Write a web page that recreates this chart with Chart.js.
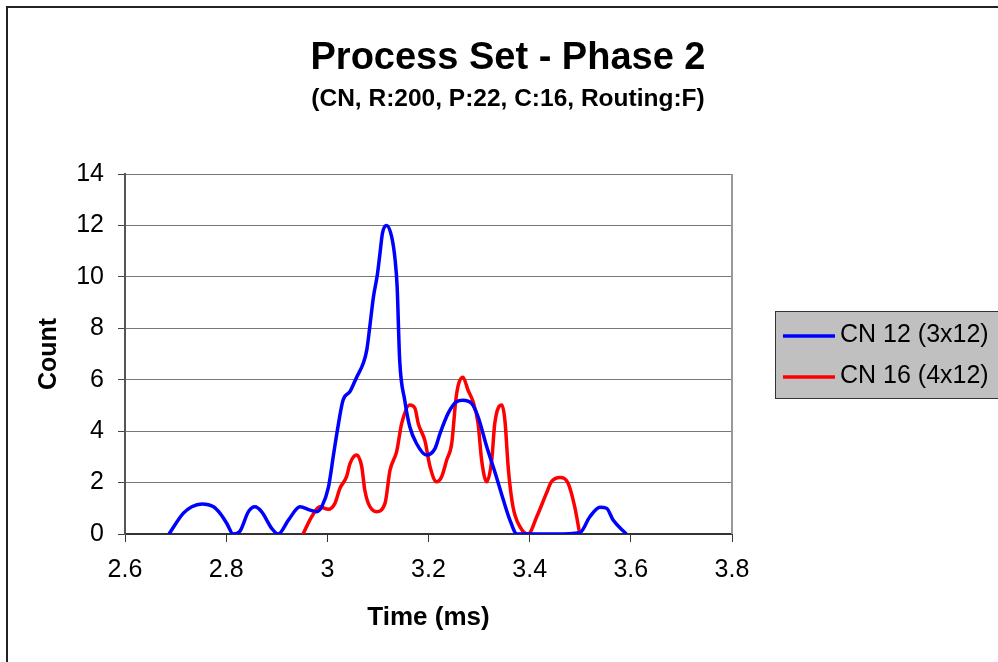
<!DOCTYPE html>
<html>
<head>
<meta charset="utf-8">
<title>Process Set - Phase 2</title>
<script src="https://cdn.jsdelivr.net/npm/chart.js@4.4.1/dist/chart.umd.min.js"></script>
<style>
    html, body { margin: 0; padding: 0; background: #fff; }
    canvas { display: block; }
</style>
</head>
<body>
<canvas id="chart_phase" width="998" height="662"></canvas>
<script>
// CN 12 (3x12)
var cn12Time = [2.687, 2.715, 2.732, 2.752, 2.775, 2.788, 2.801, 2.814, 2.827, 2.844, 2.857, 2.870, 2.890, 2.903,
    2.923, 2.946, 2.966, 2.979, 2.989, 3.002, 3.012, 3.020, 3.031, 3.045, 3.058, 3.071, 3.078, 3.084, 3.091, 3.099,
    3.104, 3.109, 3.117, 3.127, 3.134, 3.138, 3.143, 3.153, 3.163, 3.176, 3.196, 3.213, 3.223, 3.239, 3.256, 3.268,
    3.285, 3.298, 3.315, 3.332, 3.348, 3.361, 3.375, 3.400, 3.450, 3.499, 3.519, 3.539, 3.552, 3.565, 3.591];
var cn12Count = [0, 0.8, 1.06, 1.17, 1.06, 0.8, 0.42, 0, 0.1, 0.87, 1.06, 0.87, 0.22, 0,
    0.54, 1.06, 0.93, 0.87, 1.06, 1.8, 3.05, 4.05, 5.2, 5.55, 6.1, 6.64, 7.16, 8.07, 9.2, 10.1,
    10.9, 11.7, 12.0, 11.57, 10.66, 9.62, 6.77, 5.2, 4.17, 3.53, 3.07, 3.33, 3.92, 4.7, 5.15, 5.2,
    5.08, 4.56, 3.4, 2.36, 1.32, 0.54, 0, 0, 0, 0.05, 0.67, 1.04, 1.0, 0.54, 0];

// CN 16 (4x12)
var cn16Time = [2.952, 2.969, 2.985, 3.002, 3.015, 3.025, 3.038, 3.045, 3.058, 3.068, 3.074, 3.081, 3.097, 3.114,
    3.124, 3.137, 3.147, 3.163, 3.173, 3.180, 3.193, 3.203, 3.216, 3.226, 3.236, 3.246, 3.254, 3.259, 3.268, 3.278,
    3.288, 3.298, 3.305, 3.315, 3.325, 3.331, 3.345, 3.351, 3.358, 3.367, 3.381, 3.397, 3.414, 3.433, 3.443, 3.460,
    3.476, 3.489, 3.499];
var cn16Count = [0, 0.67, 1.06, 0.96, 1.19, 1.78, 2.23, 2.75, 3.07, 2.62, 1.71, 1.19, 0.87, 1.19,
    2.49, 3.2, 4.3, 5.02, 4.9, 4.28, 3.62, 2.62, 2.03, 2.23, 2.88, 3.53, 5.21, 5.8, 6.1, 5.6,
    5.15, 4.3, 2.88, 2.03, 2.88, 4.3, 5.02, 4.43, 2.49, 1.06, 0.28, 0, 0.67, 1.58, 2.03, 2.2,
    1.97, 1.06, 0];

var seriesLabels = ['CN 12 (3x12)', 'CN 16 (4x12)'];
var seriesColors = ['#0000ff', '#ff0000'];

var xTicks = [2.6, 2.8, 3, 3.2, 3.4, 3.6, 3.8];
var xTickLabels = ['2.6', '2.8', '3', '3.2', '3.4', '3.6', '3.8'];
var yTicks = [0, 2, 4, 6, 8, 10, 12, 14];
var yTickLabels = ['0', '2', '4', '6', '8', '10', '12', '14'];

var FONT = "'Liberation Sans', Arial, sans-serif";

function toPoints(xs, ys) {
    return xs.map(function (x, i) { return {x: x, y: ys[i]}; });
}

// titles, legend box and frame are painted around the plot area
var decorPlugin = {
    id: 'decor',
    beforeDraw: function (chart) {
        var ctx = chart.ctx;
        ctx.save();
        ctx.fillStyle = '#fff';
        ctx.fillRect(0, 0, chart.width, chart.height);
        ctx.restore();
    },
    afterDraw: function (chart) {
        var ctx = chart.ctx;
        var area = chart.chartArea;
        ctx.save();

        // outer frame
        ctx.strokeStyle = '#222';
        ctx.lineWidth = 2;
        ctx.beginPath();
        ctx.moveTo(7, chart.height);
        ctx.lineTo(7, 7);
        ctx.lineTo(chart.width, 7);
        ctx.stroke();

        // right edge of plot
        ctx.strokeStyle = '#999';
        ctx.lineWidth = 2;
        ctx.beginPath();
        ctx.moveTo(area.right, area.top);
        ctx.lineTo(area.right, area.bottom);
        ctx.stroke();

        // title
        ctx.fillStyle = '#000';
        ctx.textAlign = 'center';
        ctx.textBaseline = 'alphabetic';
        ctx.font = 'bold 38px ' + FONT;
        ctx.fillText('Process Set - Phase 2', 508, 69);
        ctx.font = 'bold 24.5px ' + FONT;
        ctx.fillText('(CN, R:200, P:22, C:16, Routing:F)', 508, 106);

        // legend
        ctx.fillStyle = '#c0c0c0';
        ctx.fillRect(775, 311, 240, 87);
        ctx.strokeStyle = '#333';
        ctx.lineWidth = 1;
        ctx.strokeRect(775.5, 311.5, 240, 87);
        ctx.font = '25px ' + FONT;
        ctx.textAlign = 'left';
        chart.data.datasets.forEach(function (ds, i) {
            var y = 336 + i * 41;
            ctx.strokeStyle = ds.borderColor;
            ctx.lineWidth = 3.5;
            ctx.beginPath();
            ctx.moveTo(783, y);
            ctx.lineTo(835, y);
            ctx.stroke();
            ctx.fillStyle = '#000';
            ctx.fillText(ds.label, 840, y + 6);
        });
        ctx.restore();
    }
};

var ctx = document.getElementById('chart_phase');
var phaseChart = new Chart(ctx, {
    type: 'line',
    data: {
        datasets: [{
            label: seriesLabels[0],
            data: toPoints(cn12Time, cn12Count),
            borderColor: seriesColors[0],
            backgroundColor: seriesColors[0],
            borderWidth: 3.5,
            pointRadius: 0,
            cubicInterpolationMode: 'monotone',
            fill: false
        }, {
            label: seriesLabels[1],
            data: toPoints(cn16Time, cn16Count),
            borderColor: seriesColors[1],
            backgroundColor: seriesColors[1],
            borderWidth: 3.5,
            pointRadius: 0,
            cubicInterpolationMode: 'monotone',
            fill: false
        }]
    },
    options: {
        responsive: false,
        animation: false,
        devicePixelRatio: 1,
        layout: {
            padding: {left: 0, top: 174, right: 266, bottom: 0}
        },
        plugins: {
            legend: {display: false},
            title: {display: false},
            tooltip: {enabled: false}
        },
        scales: {
            x: {
                type: 'linear',
                min: 2.6,
                max: 3.8,
                afterBuildTicks: function (scale) {
                    scale.ticks = xTicks.map(function (v) { return {value: v}; });
                },
                afterFit: function (scale) { scale.height = 128; },
                ticks: {
                    color: '#000',
                    padding: 13,
                    maxRotation: 0,
                    autoSkip: false,
                    font: {family: FONT, size: 25},
                    callback: function (value, index) { return xTickLabels[index]; }
                },
                grid: {
                    drawOnChartArea: false,
                    drawTicks: true,
                    tickLength: 8,
                    color: '#333'
                },
                border: {color: '#333', width: 2},
                title: {
                    display: true,
                    text: 'Time (ms)',
                    color: '#000',
                    font: {family: FONT, size: 26, weight: 'bold'},
                    padding: {top: 0, bottom: 29}
                }
            },
            y: {
                type: 'linear',
                min: 0,
                max: 14,
                afterBuildTicks: function (scale) {
                    scale.ticks = yTicks.map(function (v) { return {value: v}; });
                },
                afterFit: function (scale) { scale.width = 125; },
                ticks: {
                    color: '#000',
                    padding: 14,
                    autoSkip: false,
                    font: {family: FONT, size: 25},
                    callback: function (value, index) { return yTickLabels[index]; }
                },
                grid: {
                    color: '#777',
                    lineWidth: 1,
                    tickLength: 7,
                    tickColor: '#444'
                },
                border: {color: '#555', width: 2},
                title: {
                    display: true,
                    text: 'Count',
                    color: '#000',
                    font: {family: FONT, size: 25, weight: 'bold'},
                    padding: {top: 34, bottom: 0}
                }
            }
        }
    },
    plugins: [decorPlugin]
});
</script>
</body>
</html>
